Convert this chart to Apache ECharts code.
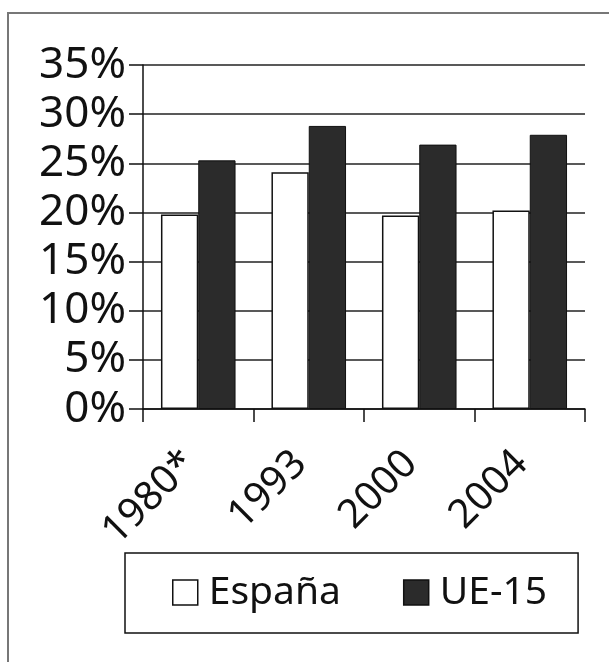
<!DOCTYPE html>
<html lang="es">
<head>
    <meta charset="UTF-8">
    <title>España / UE-15</title>
    <script src="https://cdn.jsdelivr.net/npm/echarts@6/dist/echarts.min.js"></script>
</head>
<style>
html,body{margin:0;padding:0;background-color:#fff}
#chartBox{width:609px;height:662px}
</style>
<body>
    <div id="chartBox"></div>
</body>
<script>
// datos
const categories = ['1980*', '1993', '2000', '2004'];
const espana = [19.8, 24.1, 19.7, 20.2];
const ue15 = [25.3, 28.8, 26.9, 27.9];
const seriesNames = ['España', 'UE-15'];

const FONT = 'Noto Sans';
const INK = '#111111';
const DARK = '#2b2b2b';

let chartObj = echarts.init(document.getElementById('chartBox'));
let option = {
    animation: false,
    backgroundColor: '#ffffff',
    textStyle: {fontFamily: FONT, color: INK},
    grid: {
        left: 143,
        right: 24,
        top: 65,
        bottom: 253
    },
    graphic: [
        {
            // marco gris del escaneo
            type: 'polyline',
            shape: {points: [[8, 662], [8, 13], [609, 13]]},
            style: {stroke: '#777777', lineWidth: 2, fill: null},
            silent: true
        }
    ],
    xAxis: {
        type: 'category',
        data: categories,
        axisLine: {lineStyle: {color: INK, width: 1.5}},
        axisTick: {
            show: true,
            interval: 0,
            length: 13,
            lineStyle: {color: INK, width: 1.5}
        },
        axisLabel: {
            interval: 0,
            rotate: 45,
            margin: 40,
            padding: [0, 12, 0, 0],
            fontSize: 40,
            fontFamily: FONT,
            color: INK
        }
    },
    yAxis: {
        type: 'value',
        min: 0,
        max: 35,
        interval: 5,
        axisLine: {show: true, lineStyle: {color: INK, width: 1.5}},
        axisTick: {
            show: true,
            length: 14,
            lineStyle: {color: INK, width: 1.5}
        },
        axisLabel: {
            formatter: '{value}%',
            margin: 17,
            fontSize: 44,
            fontFamily: FONT,
            color: INK
        },
        splitLine: {
            show: true,
            lineStyle: {color: '#222222', width: 1.5}
        }
    },
    legend: {
        left: 125,
        top: 553,
        padding: [20, 31, 21, 47],
        borderColor: INK,
        borderWidth: 1.5,
        itemWidth: 25,
        itemHeight: 25,
        itemGap: 62,
        textStyle: {
            fontSize: 39,
            fontFamily: FONT,
            color: INK,
            padding: [0, 0, 0, 6]
        },
        data: [
            {name: seriesNames[0], icon: 'rect', itemStyle: {color: '#ffffff', borderColor: INK, borderWidth: 1.5}},
            {name: seriesNames[1], icon: 'rect', itemStyle: {color: DARK, borderColor: INK, borderWidth: 1.5}}
        ]
    },
    series: [
        {
            type: 'bar',
            name: seriesNames[0],
            barGap: '0%',
            barCategoryGap: '32.5%',
            itemStyle: {color: '#ffffff', borderColor: INK, borderWidth: 1.5},
            data: espana
        },
        {
            type: 'bar',
            name: seriesNames[1],
            itemStyle: {color: DARK, borderColor: INK, borderWidth: 1},
            data: ue15
        }
    ]
};
chartObj.setOption(option);
</script>
</html>
